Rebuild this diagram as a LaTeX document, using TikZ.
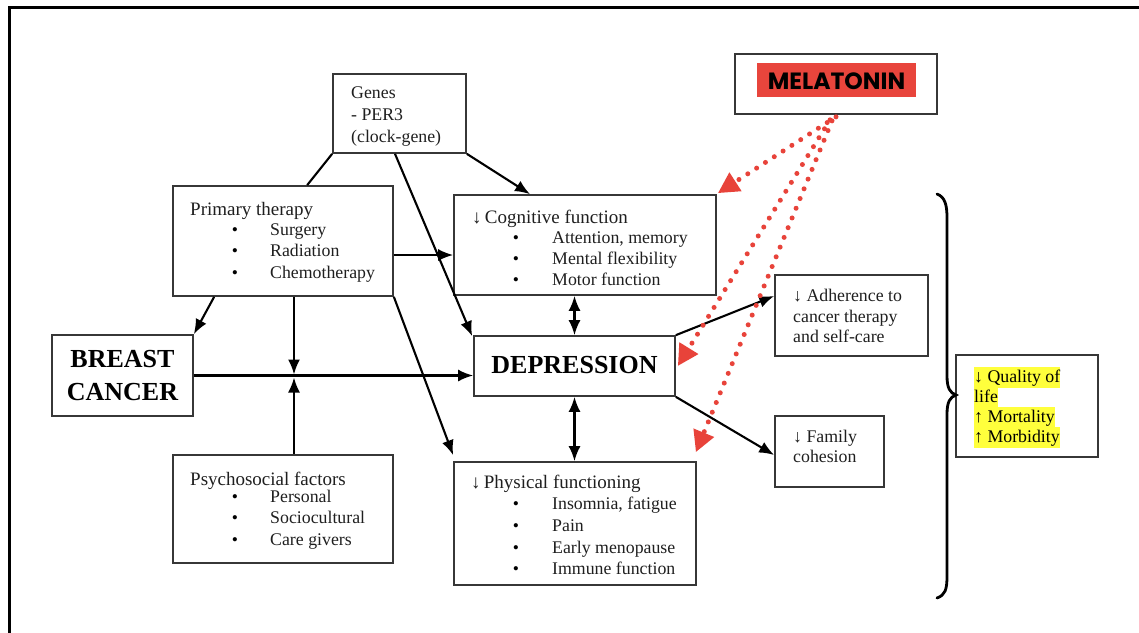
\documentclass[tikz,border=0pt]{standalone}
\usepackage{fontspec}
\setmainfont{Liberation Serif}
\newfontfamily\melfont{Poppins}
\usetikzlibrary{arrows.meta}
\definecolor{boxgray}{RGB}{55,55,55}
\definecolor{melred}{HTML}{E8433A}
\definecolor{melfill}{HTML}{E8453C}
\definecolor{hlyellow}{HTML}{FFFF3C}
\begin{document}
\begin{tikzpicture}[x=1pt,y=-1pt,
  box/.style={draw=boxgray, line width=1.7pt, inner sep=0pt},
  txt/.style={anchor=base west, inner sep=0pt, text=black!88, font=\fontsize{17.8}{21}\selectfont},
  ttl/.style={anchor=base west, inner sep=0pt, text=black!88, font=\fontsize{19}{21}\selectfont},
  bul/.style={anchor=base, inner sep=0pt, font=\fontsize{17.5}{21}\selectfont},
  big/.style={anchor=base, inner sep=0pt, font=\fontsize{26}{30}\selectfont\bfseries},
  conn/.style={line width=2.1pt, -{Latex[length=15pt,width=12pt]}},
  both/.style={line width=2.1pt, {Latex[length=15pt,width=12pt]}-{Latex[length=15pt,width=12pt]}},
  plain/.style={line width=2.1pt},
  mel/.style={draw=melred, line width=5pt, dash pattern=on 0pt off 10.5pt, line cap=round,
    -{Triangle[length=21pt,width=21pt,fill=melred]}},
  hl/.style={fill=hlyellow, anchor=base west, inner xsep=0pt, inner ysep=0pt,
    text height=15pt, text depth=6pt, font=\fontsize{17.8}{21}\selectfont}
]
\useasboundingbox (0,0) rectangle (1139,632);
\fill[white] (0,0) rectangle (1139,632);
% outer frame
\draw[line width=3pt] (9,640) -- (9,7) -- (1145,7);

% boxes
\node[box, minimum width=133pt, minimum height=79pt] (genes) at (399.5,113.5) {};
\node[box, minimum width=202pt, minimum height=60pt] (mel) at (836,84) {};
\node[box, minimum width=220pt, minimum height=110pt] (prim) at (283,241) {};
\node[box, minimum width=262pt, minimum height=100pt] (cog) at (585,245) {};
\node[box, minimum width=141pt, minimum height=81pt] (bc) at (122.5,375.5) {};
\node[box, minimum width=201pt, minimum height=60pt] (dep) at (574.5,366) {};
\node[box, minimum width=153pt, minimum height=81pt] (adh) at (851.5,315.5) {};
\node[box, minimum width=109pt, minimum height=71pt] (fam) at (829.5,451.5) {};
\node[box, minimum width=142pt, minimum height=102pt] (qol) at (1027,406) {};
\node[box, minimum width=220pt, minimum height=108pt] (psy) at (283,509) {};
\node[box, minimum width=242pt, minimum height=123pt] (phys) at (575,523.5) {};

% genes text
\node[txt] (g1) at (351,98) {Genes};
\node[txt] (g2) at (351,120) {- PER3};
\node[txt] (g3) at (351,142) {(clock-gene)};

% melatonin
\node[fill=melfill, minimum width=159pt, minimum height=34pt, inner sep=0pt] (melhl) at (836.5,80) {};
\node[anchor=base, inner sep=0pt, font=\melfont\bfseries\fontsize{23.5}{26}\selectfont] (meltxt) at (836.5,89) {MELATONIN};

% primary therapy
\node[ttl] (p0) at (190,215) {Primary therapy};
\node[bul] (pb1) at (235,235) {•};
\node[bul] (pb2) at (235,256) {•};
\node[bul] (pb3) at (235,278) {•};
\node[txt] (p1) at (270,235) {Surgery};
\node[txt] (p2) at (270,256) {Radiation};
\node[txt] (p3) at (270,278) {Chemotherapy};

% cognitive
\node[ttl] (c0) at (472,223) {↓\,Cognitive function};
\node[bul] (cb1) at (516,243) {•};
\node[bul] (cb2) at (516,264) {•};
\node[bul] (cb3) at (516,285) {•};
\node[txt] (c1) at (552,243) {Attention, memory};
\node[txt] (c2) at (552,264) {Mental flexibility};
\node[txt] (c3) at (552,285) {Motor function};

% breast cancer & depression
\node[big] (bc1) at (122.5,367) {BREAST};
\node[big] (bc2) at (122.5,400) {CANCER};
\node[big] (dep1) at (574.5,373) {DEPRESSION};

% adherence, family
\node[txt] (a1) at (793,301) {↓ Adherence to};
\node[txt] (a2) at (793,322) {cancer therapy};
\node[txt] (a3) at (793,342) {and self-care};
\node[txt] (f1) at (793,442) {↓ Family};
\node[txt] (f2) at (793,462) {cohesion};

% quality of life
\node[hl] (q1) at (974,382) {↓ Quality of};
\node[hl] (q2) at (974,402) {life};
\node[hl] (q3) at (974,422) {↑ Mortality};
\node[hl] (q4) at (974,442) {↑ Morbidity};

% psychosocial
\node[ttl] (s0) at (190,485) {Psychosocial factors};
\node[bul] (sb1) at (235,502) {•};
\node[bul] (sb2) at (235,523) {•};
\node[bul] (sb3) at (235,545) {•};
\node[txt] (s1) at (270,502) {Personal};
\node[txt] (s2) at (270,523) {Sociocultural};
\node[txt] (s3) at (270,545) {Care givers};

% physical
\node[ttl] (h0) at (471,488) {↓\,Physical functioning};
\node[bul] (hb1) at (516,509) {•};
\node[bul] (hb2) at (516,531) {•};
\node[bul] (hb3) at (516,553) {•};
\node[bul] (hb4) at (516,574) {•};
\node[txt] (h1) at (552,509) {Insomnia, fatigue};
\node[txt] (h2) at (552,531) {Pain};
\node[txt] (h3) at (552,553) {Early menopause};
\node[txt] (h4) at (552,574) {Immune function};

% connectors
\coordinate (j) at (294,376);
\draw[plain] (genes.south west) -- ([xshift=135pt]prim.north west);
\draw[conn] ([xshift=-4.5pt]genes.south) -- ([xshift=-1pt,yshift=-1pt]dep.north west);
\draw[conn] (genes.south east) -- ([xshift=-55pt]cog.north);
\draw[conn] ([yshift=-14pt]prim.east) coordinate (p1e) -- (p1e -| cog.west);
\draw[conn] ([xshift=42pt]prim.south west) -- (bc.north east);
\draw[conn] (j |- prim.south) -- ([yshift=1.5pt]j);
\draw[conn] (j |- psy.north) -- ([yshift=-1.5pt]j);
\draw[conn] (prim.south east) -- ([yshift=6pt]phys.north west);
\draw[conn] (bc.east) -- (bc.east -| dep.west);
\draw[both] (dep.north |- cog.south) -- (dep.north);
\draw[both] (dep.south) -- (dep.south |- phys.north);
\draw[conn] (dep.north east) -- ([yshift=19.5pt]adh.west);
\draw[conn] (dep.south east) -- ([yshift=-3.5pt]fam.west);

% melatonin dotted arrows
\draw[mel] ([yshift=-2pt]mel.south) -- ([xshift=1pt,yshift=1pt]cog.north east);
\draw[mel] ([xshift=-6pt,yshift=-5pt]mel.south) -- ([xshift=2pt]dep.east);
\draw[mel] ([xshift=-4pt,yshift=-6pt]mel.south) -- ([xshift=-1pt,yshift=9pt]phys.north east);

% brace
\draw[line width=2.8pt, line cap=round] (937,194) .. controls (945,197) and (947,205) .. (947,218)
  -- (947,376) .. controls (947,388) and (950,393) .. (956,395)
  .. controls (950,397) and (947,402) .. (947,414)
  -- (947,576) .. controls (947,590) and (945,595) .. (937,598);
\end{tikzpicture}
\end{document}
